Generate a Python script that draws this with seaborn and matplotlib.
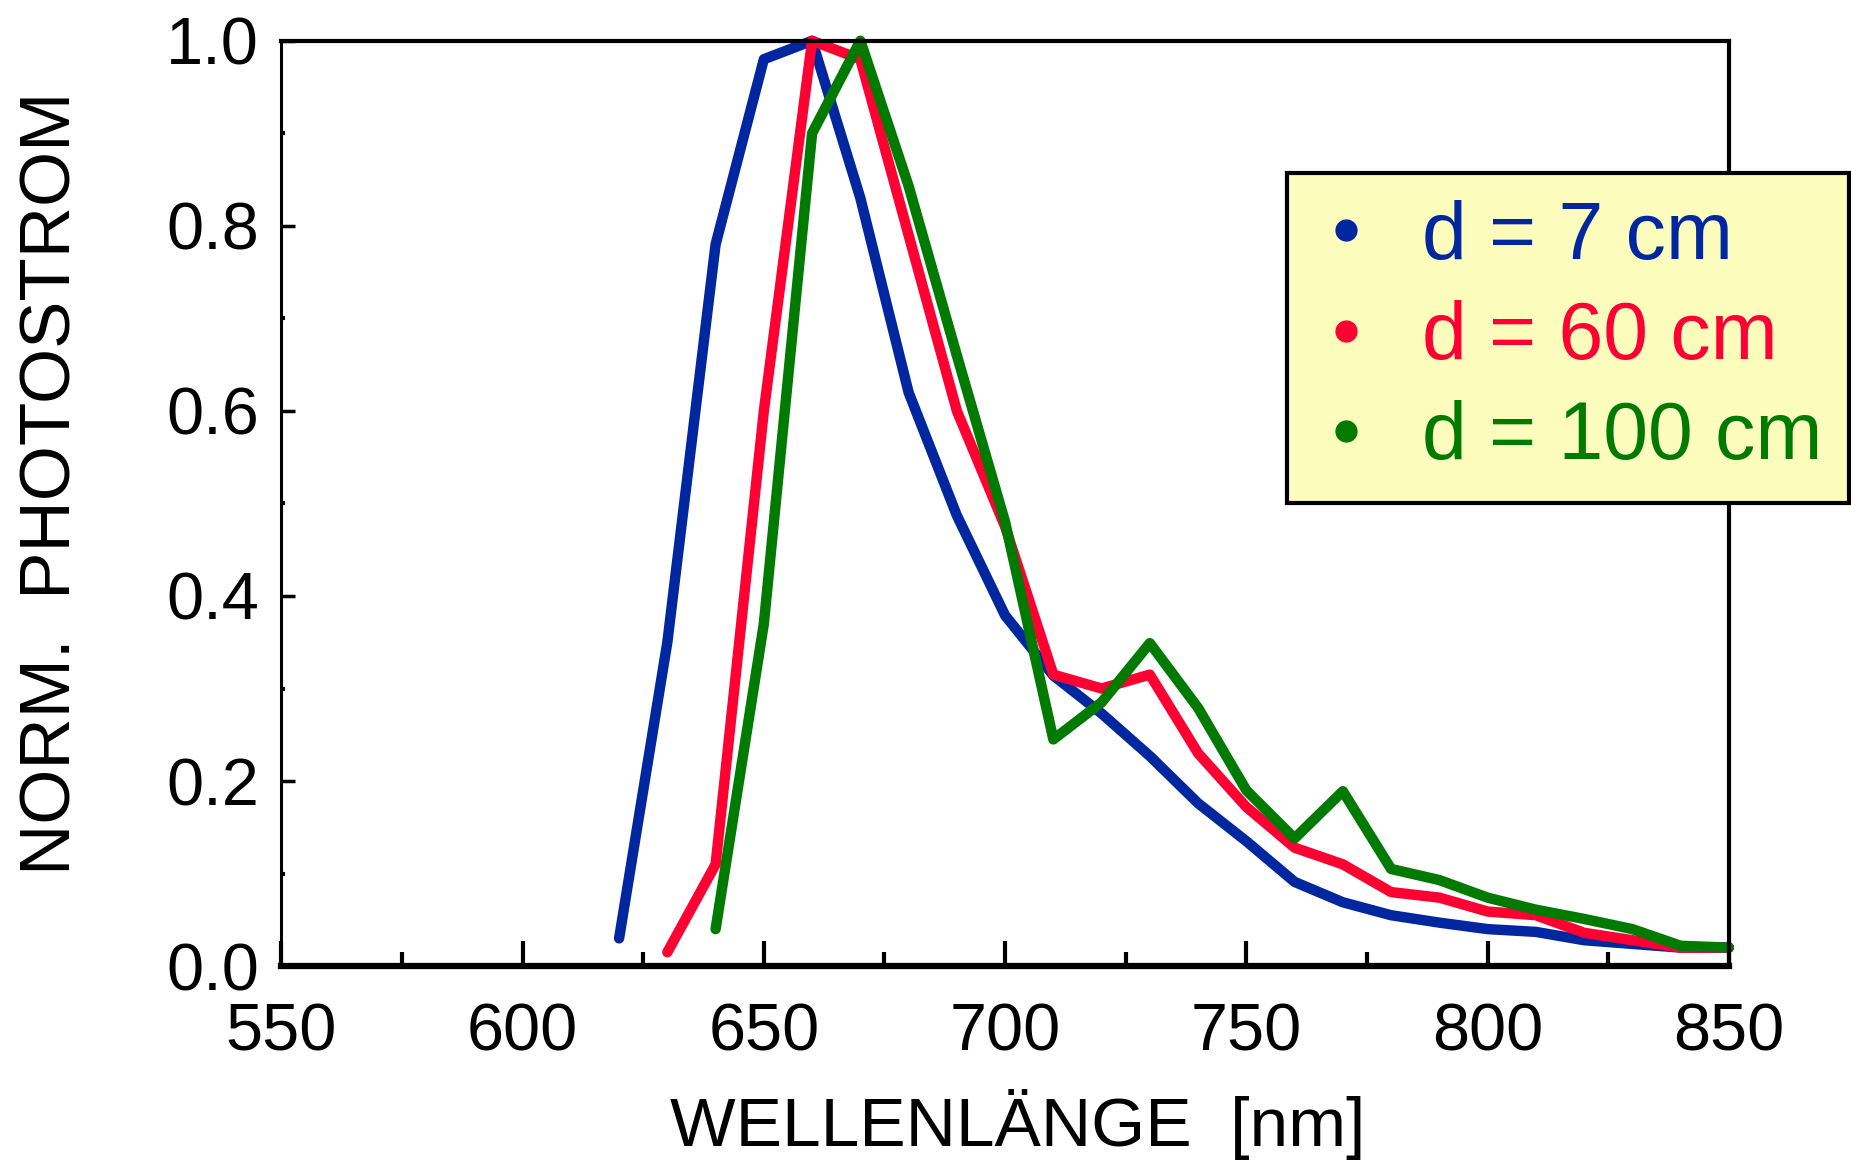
import numpy as np
import pandas as pd
import matplotlib
matplotlib.use("Agg")
import matplotlib.pyplot as plt
from matplotlib.lines import Line2D
import seaborn as sns

# wavelengths in nm, one value per 10 nm
wl_7 = [620, 630, 640, 650, 660, 670, 680, 690, 700, 710, 720, 730, 740, 750,
        760, 770, 780, 790, 800, 810, 820, 830, 840, 850]
pc_7 = [0.03, 0.35, 0.78, 0.98, 1.0, 0.83, 0.62, 0.487, 0.379, 0.314, 0.273, 0.227,
        0.176, 0.135, 0.091, 0.069, 0.055, 0.047, 0.04, 0.037, 0.028, 0.024, 0.02, 0.02]

wl_60 = wl_7[1:]
pc_60 = [0.015, 0.11, 0.60, 1.0, 0.98, 0.79, 0.60, 0.475, 0.315, 0.30, 0.315, 0.23,
         0.172, 0.128, 0.11, 0.08, 0.074, 0.059, 0.055, 0.036, 0.028, 0.02, 0.02]

wl_100 = wl_7[2:]
pc_100 = [0.04, 0.37, 0.90, 1.0, 0.843, 0.66, 0.48, 0.245, 0.285, 0.349, 0.279, 0.19,
          0.138, 0.189, 0.105, 0.093, 0.074, 0.061, 0.051, 0.04, 0.022, 0.02]

labels = ["d = 7 cm", "d = 60 cm", "d = 100 cm"]
colors = ["#0026a0", "#ff0033", "#007a00"]

df = pd.concat([
    pd.DataFrame({"wl": wl_7, "pc": pc_7, "d": labels[0]}),
    pd.DataFrame({"wl": wl_60, "pc": pc_60, "d": labels[1]}),
    pd.DataFrame({"wl": wl_100, "pc": pc_100, "d": labels[2]}),
])

sns.set_style("ticks")
plt.rcParams["font.family"] = ["Liberation Sans", "DejaVu Sans"]
plt.rcParams["text.color"] = "black"
plt.rcParams["axes.labelcolor"] = "black"
plt.rcParams["xtick.color"] = "black"
plt.rcParams["ytick.color"] = "black"

fig = plt.figure(figsize=(18.51, 11.64), dpi=100)
ax = fig.add_axes([0.152, 0.170, 0.782, 0.795])

sns.lineplot(data=df, x="wl", y="pc", hue="d", palette=colors, linewidth=7.5,
             legend=False, sort=False, ax=ax)
for ln in ax.lines:
    ln.set_solid_capstyle("round")
    ln.set_clip_on(False)

ax.set_xlim(550, 850)
ax.set_ylim(0, 1.0)
ax.set_xticks(np.arange(550, 851, 50))
ax.set_xticks(np.arange(575, 850, 50), minor=True)
ax.set_yticks(np.arange(0, 1.01, 0.2))
ax.set_yticks(np.arange(0.1, 1.0, 0.2), minor=True)
ax.set_yticklabels([f"{v:.1f}" for v in np.arange(0, 1.01, 0.2)])

ax.tick_params(axis="x", which="major", direction="in", length=18, width=3,
               labelsize=48, pad=26, top=False, colors="black")
ax.tick_params(axis="x", which="minor", direction="in", length=10, width=3, top=False)
ax.tick_params(axis="y", which="major", direction="in", length=10, width=2.5,
               labelsize=48, pad=16, right=False, colors="black")
ax.tick_params(axis="y", which="minor", direction="in", length=3, width=3, right=False)

for side in ["top", "right", "left", "bottom"]:
    ax.spines[side].set_visible(True)
    ax.spines[side].set_color("black")
ax.spines["left"].set_linewidth(2.2)
ax.spines["bottom"].set_linewidth(4.5)
ax.spines["top"].set_linewidth(3)
ax.spines["right"].set_linewidth(3)

ax.set_xlabel("WELLENLÄNGE  [nm]", fontsize=50, color="black")
ax.xaxis.set_label_coords(0.509, -0.133)
ax.set_ylabel("NORM.  PHOTOSTROM", fontsize=51, color="black")
ax.yaxis.set_label_coords(-0.135, 0.522)

handles = [Line2D([], [], marker="o", linestyle="", color=c, markersize=15) for c in colors]
leg = ax.legend(handles, labels, loc="upper left",
                bbox_to_anchor=(1287 / 1851, 1 - 173 / 1164), bbox_transform=fig.transFigure,
                fontsize=58, frameon=True, fancybox=False, handlelength=0.8,
                handletextpad=0.55, borderpad=0.33, labelspacing=0.3, borderaxespad=0)
frame = leg.get_frame()
frame.set_facecolor("#fcfcbc")
frame.set_edgecolor("black")
frame.set_linewidth(3)
frame.set_alpha(1)
for txt, c in zip(leg.get_texts(), colors):
    txt.set_color(c)

fig.savefig("out.png", dpi=100)
